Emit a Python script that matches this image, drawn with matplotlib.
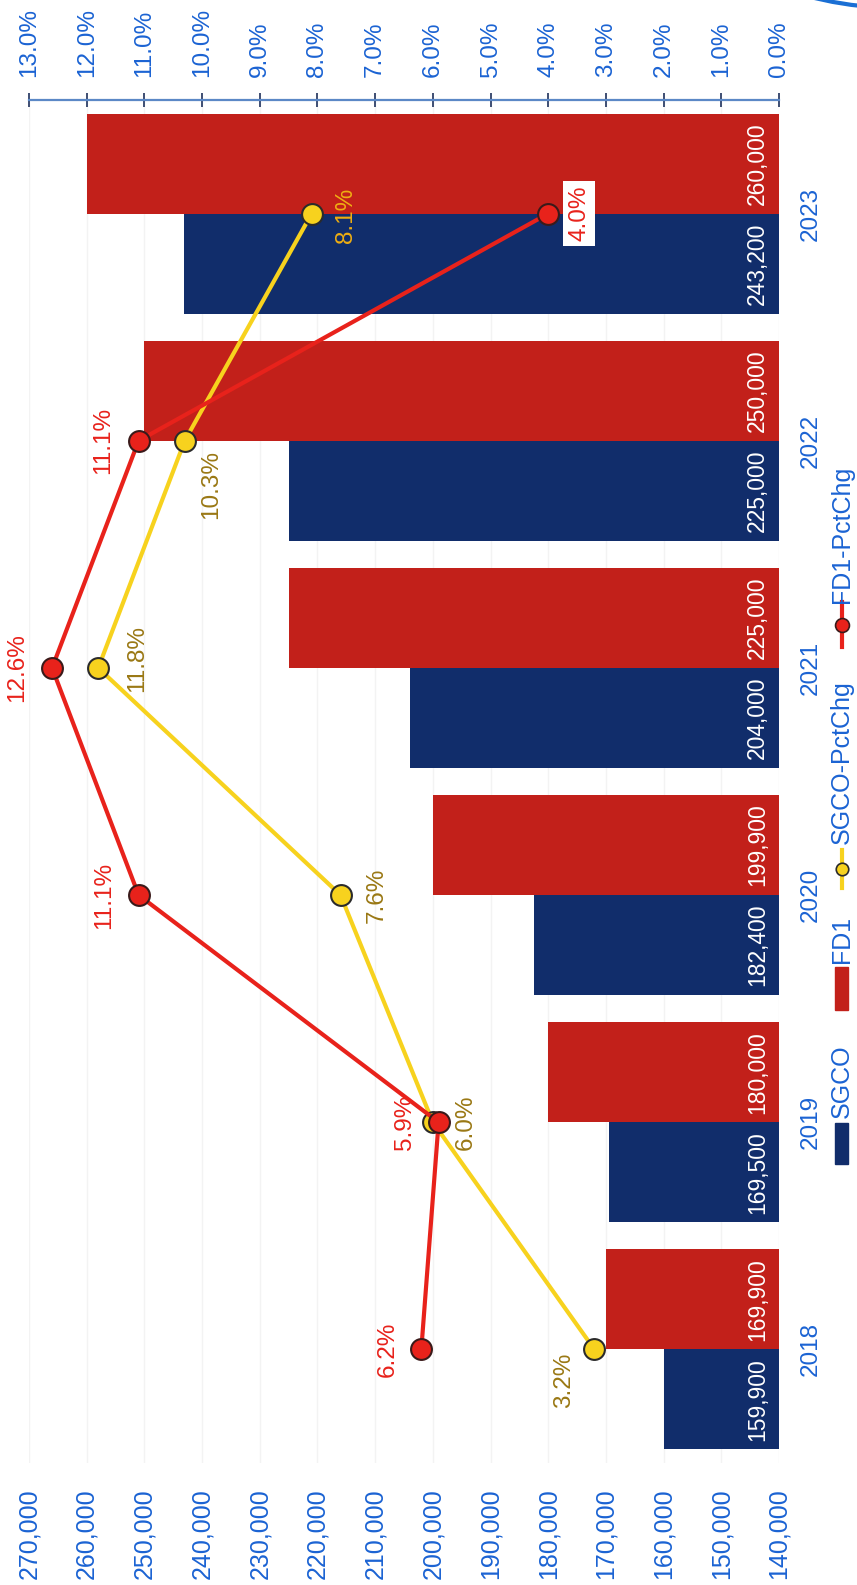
import matplotlib
matplotlib.use('Agg')
import matplotlib.pyplot as plt
from matplotlib.patches import Rectangle, Arc
from matplotlib.lines import Line2D

plt.rcParams['font.family'] = ['Liberation Sans', 'DejaVu Sans']

# data
years = ['2018', '2019', '2020', '2021', '2022', '2023']
sgco = [159900, 169500, 182400, 204000, 225000, 243200]
fd1 = [169900, 180000, 199900, 225000, 250000, 260000]
sgco_pct = [3.2, 6.0, 7.6, 11.8, 10.3, 8.1]
fd1_pct = [6.2, 5.9, 11.1, 12.6, 11.1, 4.0]
value_ticks = list(range(140000, 270001, 10000))
pct_ticks = list(range(0, 14))

NAVY = '#112d6b'
DKRED = '#c2201a'
RED = '#e8221b'
YEL = '#f7d21e'
BLUE_TXT = '#1b63d3'
GOLD_TXT = '#9a7814'

W, H = 857, 1585
fig = plt.figure(figsize=(W / 100, H / 100), dpi=100)


def fx(px):
    return px / W


def fy(py):
    return 1 - py / H


# chart is drawn turned on its side: categories run bottom->top
ax = fig.add_axes([fx(29), fy(1463), fx(779) - fx(29), fy(100) - fy(1463)])
idx = list(range(len(years)))
bw = 0.44

ax.barh([i + bw / 2 for i in idx], fd1, height=bw, color=DKRED, zorder=2)
ax.barh([i - bw / 2 for i in idx], sgco, height=bw, color=NAVY, zorder=2)
ax.set_xlim(270000, 140000)
ax.set_ylim(-0.5, 5.5)
ax.set_xticks(value_ticks)
ax.set_xticklabels([f'{v:,}' for v in value_ticks])
ax.tick_params(axis='x', length=0, pad=18, labelsize=18, labelcolor=BLUE_TXT,
               labelrotation=90)
ax.tick_params(axis='y', left=False, labelleft=False)
ax.grid(axis='x', color='#f3f3f3', lw=1)
ax.set_axisbelow(True)
for s in ax.spines.values():
    s.set_visible(False)

# bar value labels + years
for i in idx:
    ax.text(0.971, i + bw / 2, f'{fd1[i]:,}', transform=ax.get_yaxis_transform(),
            rotation=90, ha='center', va='center', color='white', fontsize=16.5, zorder=3)
    ax.text(0.971, i - bw / 2, f'{sgco[i]:,}', transform=ax.get_yaxis_transform(),
            rotation=90, ha='center', va='center', color='white', fontsize=16.5, zorder=3)
    ax.text(1.028, i, years[i], transform=ax.get_yaxis_transform(),
            rotation=90, ha='left', va='center', color=BLUE_TXT, fontsize=17.5)

# percent axis on top
ax2 = ax.twiny()
ax2.set_xlim(13, 0)
ax2.set_xticks(pct_ticks)
ax2.set_xticklabels([f'{v:.1f}%' for v in pct_ticks])
ax2.tick_params(axis='x', top=True, direction='inout', length=9.5, width=1.3,
                color='#2f4068', pad=12, labelsize=17.5, labelcolor=BLUE_TXT,
                labelrotation=90)
for k, s in ax2.spines.items():
    s.set_visible(k == 'top')
ax2.spines['top'].set_color('#5b88c6')
ax2.spines['top'].set_linewidth(1.6)

ax2.plot(sgco_pct, idx, color=YEL, lw=3, marker='o', ms=15, mfc=YEL,
         mec='#2b2b2b', mew=1.5, zorder=4)
ax2.plot(fd1_pct, idx, color=RED, lw=3, marker='o', ms=15, mfc=RED,
         mec='#3a1a1a', mew=1.5, zorder=5)

red_off = [(-34, 0), (-34, 0), (-34, 0), (-35, 0), (-35, 0), (31, 0)]
yel_off = [(-30, -31), (33, 0), (36, 0), (39, 9), (26, -44), (34, -2)]
for i in idx:
    if i == 5:
        ax2.annotate(f'{fd1_pct[i]:.1f}%', (fd1_pct[i], i), xytext=red_off[i],
                     textcoords='offset pixels', rotation=90, ha='center', va='center',
                     color=RED, fontsize=17.5, zorder=6,
                     bbox=dict(boxstyle='square,pad=0.2', fc='white', ec='none'))
    else:
        ax2.annotate(f'{fd1_pct[i]:.1f}%', (fd1_pct[i], i), xytext=red_off[i],
                     textcoords='offset pixels', rotation=90, ha='center', va='center',
                     color=RED, fontsize=17.5, zorder=6)
    ax2.annotate(f'{sgco_pct[i]:.1f}%', (sgco_pct[i], i), xytext=yel_off[i],
                 textcoords='offset pixels', rotation=90, ha='center', va='center',
                 color='#efae12' if i == 5 else GOLD_TXT, fontsize=17.5, zorder=6)

# legend, turned like the chart
lx = 842
fig.add_artist(Rectangle((fx(835), fy(1164)), fx(13), fy(1123) - fy(1164),
                         transform=fig.transFigure, color=NAVY))
fig.text(fx(lx), fy(1118), 'SGCO', rotation=90, ha='center', va='bottom',
         color=BLUE_TXT, fontsize=18)
fig.add_artist(Rectangle((fx(835), fy(1010)), fx(13), fy(967) - fy(1010),
                         transform=fig.transFigure, color=DKRED))
fig.text(fx(lx), fy(963), 'FD1', rotation=90, ha='center', va='bottom',
         color=BLUE_TXT, fontsize=18)
fig.add_artist(Line2D([fx(lx), fx(lx)], [fy(850), fy(888)], transform=fig.transFigure,
                      color=YEL, lw=3))
fig.add_artist(Line2D([fx(lx)], [fy(869)], transform=fig.transFigure, marker='o',
                      ms=9, mfc=YEL, mec='#2b2b2b', mew=1.2, lw=0))
fig.text(fx(lx), fy(844), 'SGCO-PctChg', rotation=90, ha='center', va='bottom',
         color=BLUE_TXT, fontsize=18)
fig.add_artist(Line2D([fx(lx), fx(lx)], [fy(602), fy(647)], transform=fig.transFigure,
                      color=RED, lw=3))
fig.add_artist(Line2D([fx(lx)], [fy(625)], transform=fig.transFigure, marker='o',
                      ms=10, mfc=RED, mec='#3a1a1a', mew=1.2, lw=0))
fig.text(fx(lx), fy(603), 'FD1-PctChg', rotation=90, ha='center', va='bottom',
         color=BLUE_TXT, fontsize=18)

# blue pen stroke in the top right corner of the scan
fig.add_artist(Arc((fx(900), fy(-97)), 400 / W, 210 / H, theta1=180, theta2=360,
                   transform=fig.transFigure, color='#1a6fd4', lw=3))

fig.savefig('out.png', dpi=100)
